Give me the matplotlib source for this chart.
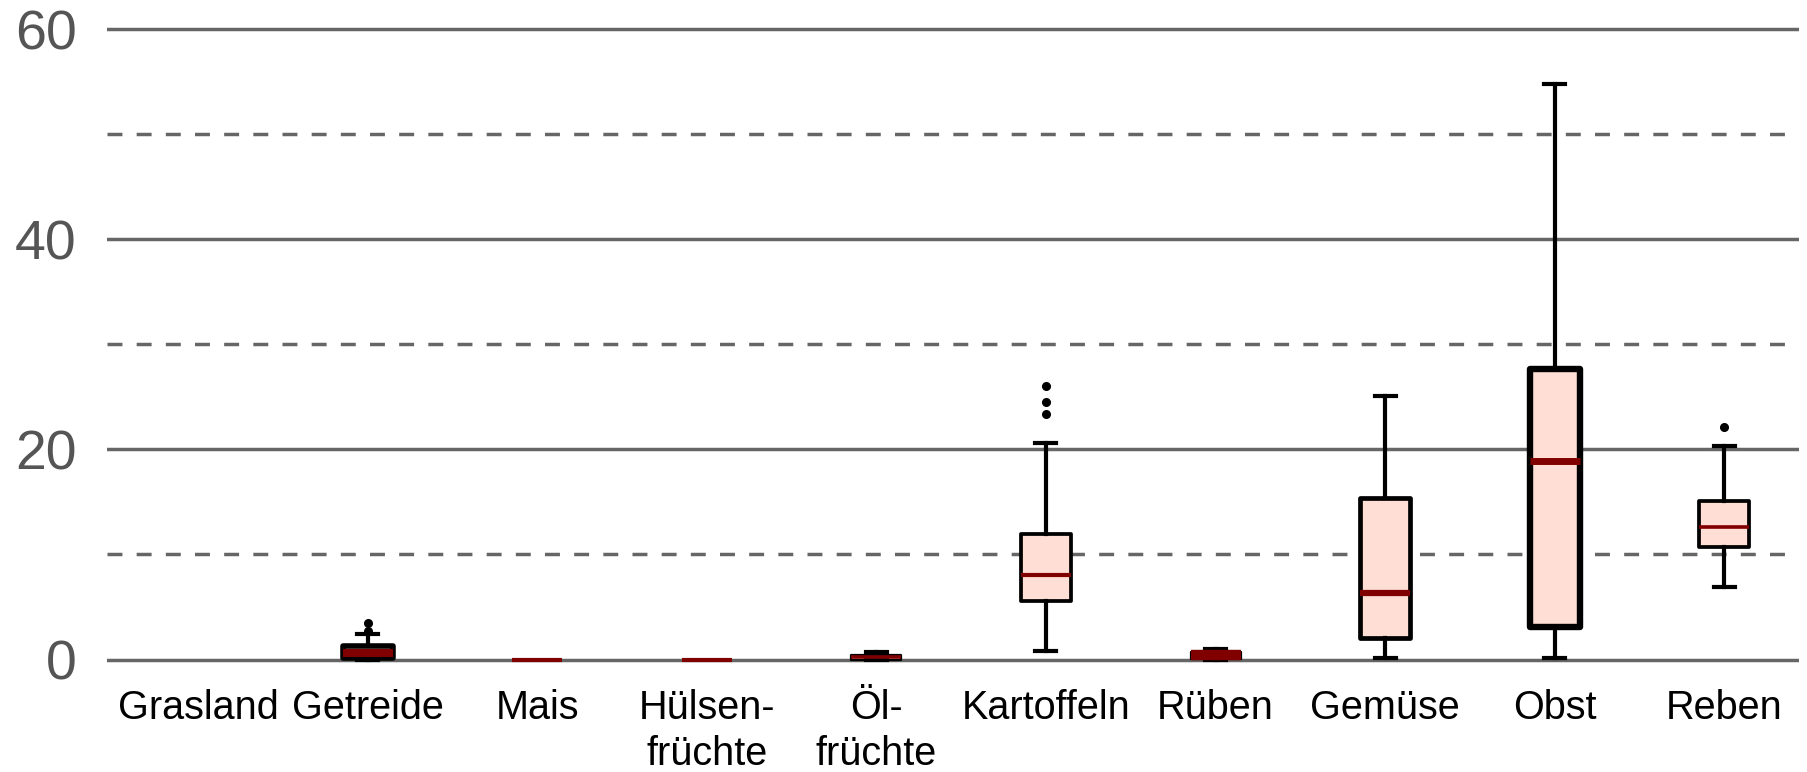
import numpy as np
import matplotlib
matplotlib.use("Agg")
import matplotlib.pyplot as plt

# ---- data ----
categories = ["Grasland", "Getreide", "Mais", "Hülsen-\nfrüchte", "Öl-\nfrüchte",
              "Kartoffeln", "Rüben", "Gemüse", "Obst", "Reben"]
q1 =     [None, 0.10, 0.0, 0.0, 0.00, 5.6, 0.05, 2.0, 3.1, 10.75]
median = [None, 0.65, 0.0, 0.0, 0.20, 8.0, 0.40, 6.35, 18.9, 12.6]
q3 =     [None, 1.30, 0.0, 0.0, 0.40, 11.9, 0.75, 15.4, 27.6, 15.1]
whislo = [None, 0.00, 0.0, 0.0, 0.00, 0.8, 0.00, 0.1, 0.1, 6.9]
whishi = [None, 2.45, 0.0, 0.0, 0.70, 20.6, 1.00, 25.1, 54.8, 20.3]
fliers = [[], [2.75, 3.5], [], [], [], [23.4, 24.5, 26.0], [], [], [], [22.1]]
yticks = [0, 20, 40, 60]
ydashed = [10, 30, 50]

# ---- styles (per box, in points) ----
box_lw =    [0, 4.0, 0.0, 0.0, 1.6, 2.7, 1.6, 3.4, 4.6, 2.7]
median_lw = [0, 5.8, 3.0, 3.0, 2.6, 3.0, 7.5, 4.5, 5.0, 2.6]

fig = plt.figure(figsize=(18.08, 7.72), dpi=100)
ax = fig.add_axes([107 / 1808, 0.1321, (1799 - 107) / 1808, 0.8439])

for y in yticks:
    ax.axhline(y, color="#666666", lw=2.5, zorder=0)
for y in ydashed:
    ax.axhline(y, color="#666666", lw=2.5, ls=(0, (4.3, 4.1)), zorder=0)

for i in range(len(categories)):
    if q1[i] is None:
        continue
    st = dict(med=median[i], q1=q1[i], q3=q3[i], whislo=whislo[i],
              whishi=whishi[i], fliers=fliers[i])
    res = ax.bxp([st], positions=[i], widths=0.295, capwidths=[0.124],
                 patch_artist=True, showfliers=True,
                 boxprops=dict(facecolor="#FFDED6", edgecolor="black",
                               linewidth=box_lw[i], joinstyle="round"),
                 medianprops=dict(color="#800000", linewidth=median_lw[i],
                                  solid_capstyle="butt"),
                 whiskerprops=dict(color="black", linewidth=3.0),
                 capprops=dict(color="black", linewidth=3.0),
                 flierprops=dict(marker="o", markerfacecolor="black",
                                 markeredgecolor="black", markersize=5.5,
                                 linestyle="none"))
    if box_lw[i] == 0:
        for b in res["boxes"]:
            b.set_visible(False)
        for w in res["whiskers"] + res["caps"]:
            w.set_visible(False)
    for b in res["boxes"]:
        b.set_zorder(2)
    for m in res["medians"]:
        m.set_zorder(3)

ax.set_xlim(-0.539, 9.442)
ax.set_ylim(-1, 61)
ax.set_yticks(yticks)
ax.set_yticklabels([str(v) for v in yticks])
ax.set_xticks(range(len(categories)))
ax.set_xticklabels(categories, fontsize=28.5, fontfamily="Liberation Sans",
                   linespacing=1.25)
for lab in ax.get_yticklabels():
    lab.set_fontsize(40)
    lab.set_fontfamily("Liberation Sans")
    lab.set_color("#555555")
ax.tick_params(axis="y", length=0, pad=22)
ax.tick_params(axis="x", length=0, pad=14)
for s in ax.spines.values():
    s.set_visible(False)
ax.set_facecolor("white")
fig.patch.set_facecolor("white")

fig.savefig("out.png", dpi=100)
